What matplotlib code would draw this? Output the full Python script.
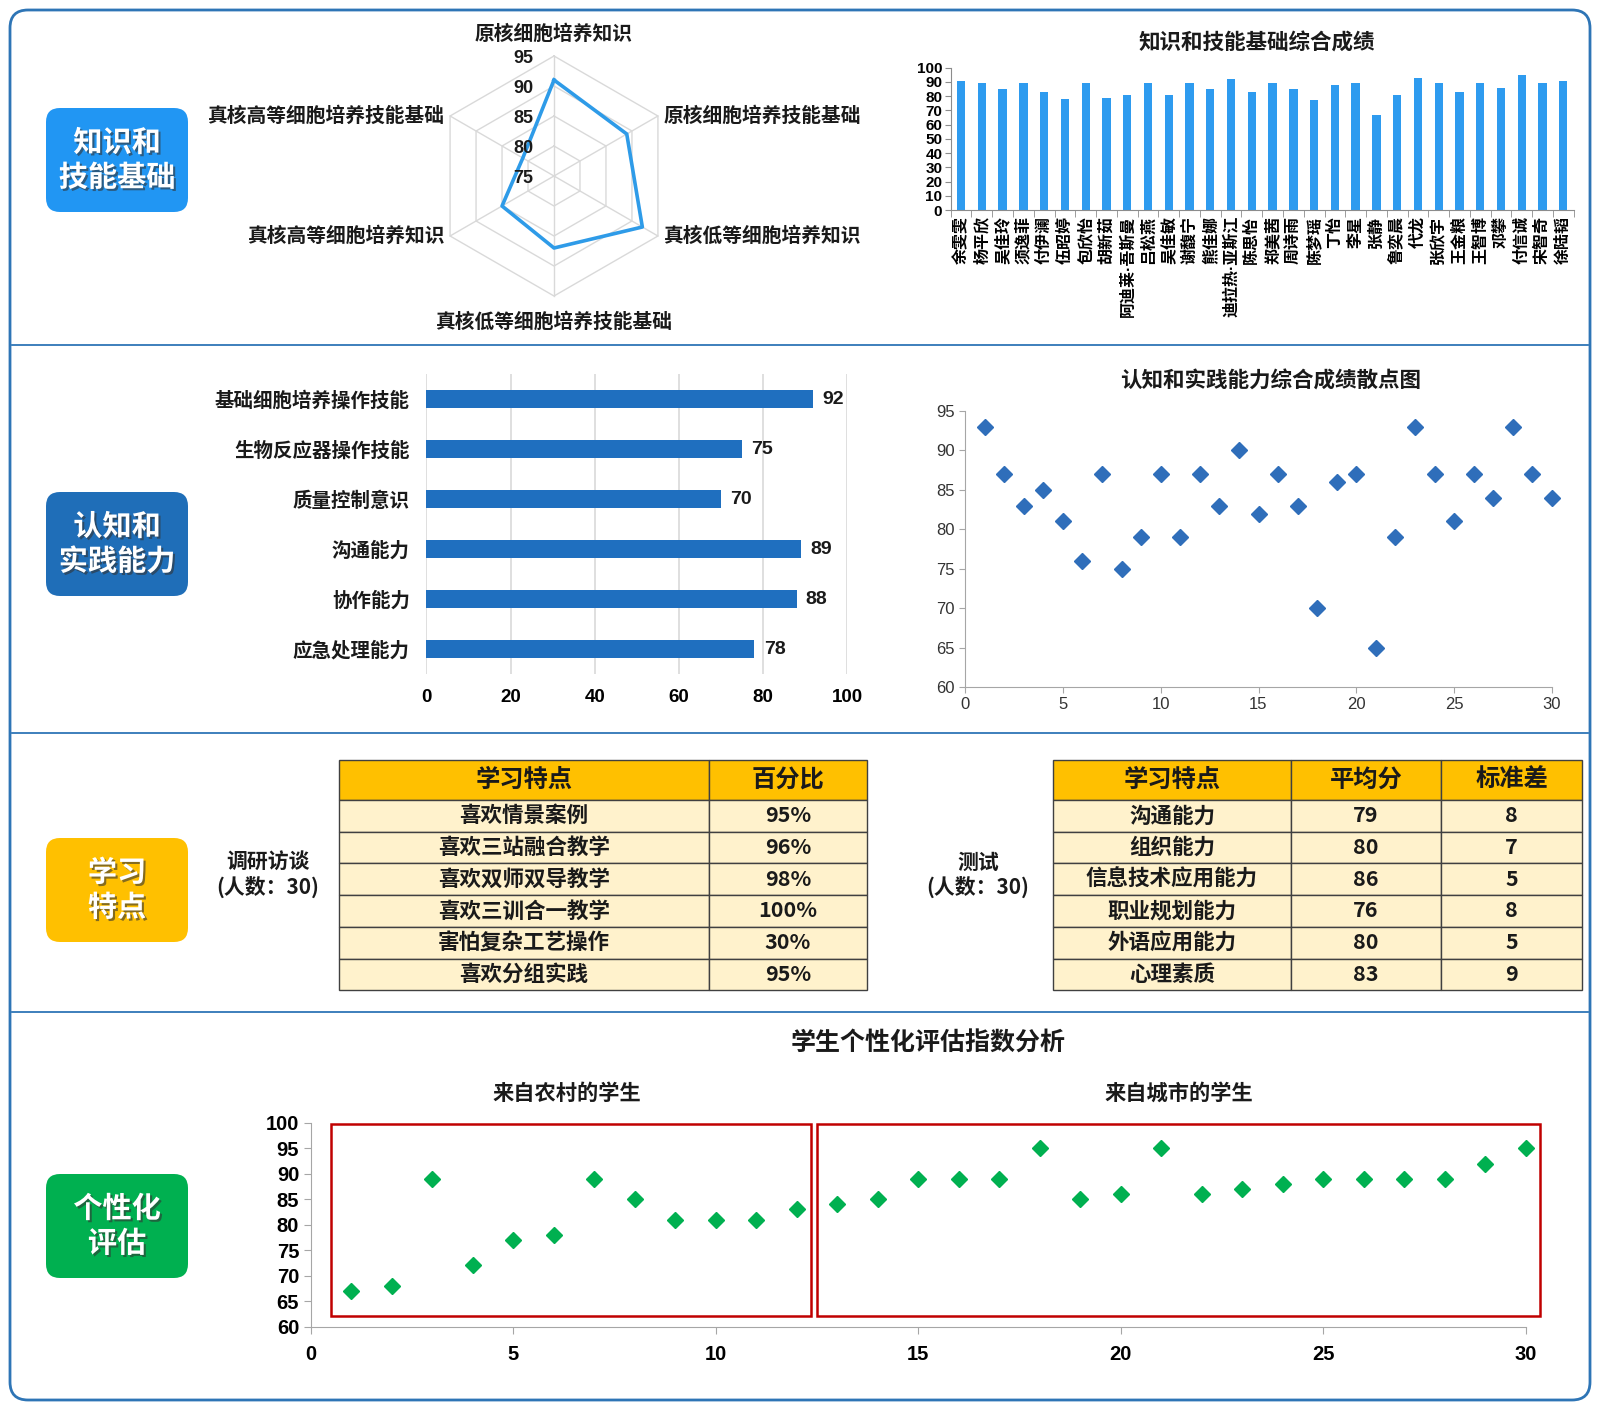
import matplotlib
matplotlib.use('Agg')
import matplotlib.pyplot as plt
import matplotlib.patheffects as pe
from matplotlib.patches import FancyBboxPatch, Rectangle
from matplotlib import font_manager
import numpy as np

plt.rcParams['font.family'] = ['Liberation Sans', 'Noto Sans CJK SC']
plt.rcParams['axes.unicode_minus'] = False

W, H = 1600, 1410
CJK = ['Noto Sans CJK SC', 'DejaVu Sans']
MIXED = ['Liberation Sans', 'Noto Sans CJK SC']
_names = {f.name for f in font_manager.fontManager.ttflist}
NARROW = 'Liberation Sans Narrow' if 'Liberation Sans Narrow' in _names else 'Liberation Sans'

# ---- data ----
radar_labels = ['原核细胞培养知识', '原核细胞培养技能基础', '真核低等细胞培养知识',
                '真核低等细胞培养技能基础', '真核高等细胞培养知识', '真核高等细胞培养技能基础']
radar_values = [91, 89, 92, 87, 85, 81]
radar_ticks = [75, 80, 85, 90, 95]

students = ['余雯雯', '杨平欣', '吴佳玲', '须逸菲', '付伊澜', '伍昭婷', '包欣怡', '胡新茹',
            '阿迪莱·吾斯曼', '吕松燕', '吴佳敏', '谢馥宁', '熊佳娜', '迪拉热·亚斯江', '陈思怡',
            '郑美茜', '周诗雨', '陈梦瑶', '丁怡', '李星', '张静', '鲁奕晨', '代龙', '张欣宇',
            '王金粮', '王智博', '邓攀', '付信诚', '宋智奇', '徐陆韬']
knowledge_scores = [91, 89, 85, 89, 83, 78, 89, 79, 81, 89, 81, 89, 85, 92, 83,
                    89, 85, 77, 88, 89, 67, 81, 93, 89, 83, 89, 86, 95, 89, 91]

ability_labels = ['基础细胞培养操作技能', '生物反应器操作技能', '质量控制意识',
                  '沟通能力', '协作能力', '应急处理能力']
ability_values = [92, 75, 70, 89, 88, 78]

practice_scores = [93, 87, 83, 85, 81, 76, 87, 75, 79, 87, 79, 87, 83, 90, 82,
                   87, 83, 70, 86, 87, 65, 79, 93, 87, 81, 87, 84, 93, 87, 84]

survey_header = ['学习特点', '百分比']
survey_items = ['喜欢情景案例', '喜欢三站融合教学', '喜欢双师双导教学',
                '喜欢三训合一教学', '害怕复杂工艺操作', '喜欢分组实践']
survey_pct = [95, 96, 98, 100, 30, 95]

test_header = ['学习特点', '平均分', '标准差']
test_items = ['沟通能力', '组织能力', '信息技术应用能力', '职业规划能力', '外语应用能力', '心理素质']
test_mean = [79, 80, 86, 76, 80, 83]
test_std = [8, 7, 5, 8, 5, 9]

personal_scores = [67, 68, 89, 72, 77, 78, 89, 85, 81, 81, 81, 83, 84, 85, 89,
                   89, 89, 95, 85, 86, 95, 86, 87, 88, 89, 89, 89, 89, 92, 95]
rural_count = 12
group_titles = ['来自农村的学生', '来自城市的学生']

sections = [('知识和\n技能基础', '#2196F3', 160),
            ('认知和\n实践能力', '#1F6EB8', 544),
            ('学习\n特点', '#FFC000', 890),
            ('个性化\n评估', '#00B050', 1226)]

fig = plt.figure(figsize=(16, 14.1), dpi=100)


def px_axes(x0, y0, x1, y1, **kw):
    return fig.add_axes([x0 / W, 1 - y1 / H, (x1 - x0) / W, (y1 - y0) / H], **kw)


# background / layout layer in pixel coordinates
bg = fig.add_axes([0, 0, 1, 1])
bg.set_xlim(0, W)
bg.set_ylim(H, 0)
bg.axis('off')

bg.add_patch(FancyBboxPatch((10, 10), 1580, 1390, boxstyle='round,pad=0,rounding_size=18',
                            fill=False, ec='#2E75B6', lw=2))
for ysep in [345, 733, 1012]:
    bg.plot([12, 1588], [ysep, ysep], color='#2E75B6', lw=1.3)

shadow = [pe.SimplePatchShadow(offset=(1.5, -1.5), shadow_rgbFace='#333333', alpha=0.6), pe.Normal()]
for text, color, cy in sections:
    bg.add_patch(FancyBboxPatch((46, cy - 52), 142, 104, boxstyle='round,pad=0,rounding_size=14',
                                fc=color, ec='none'))
    bg.text(117, cy, text, ha='center', va='center', color='white', fontsize=21,
            fontweight='bold', family=CJK, linespacing=1.2, path_effects=shadow)

# ---- radar ----
ax = px_axes(434, 56, 674, 296, projection='polar')
ax.patch.set_alpha(0)
angles = np.linspace(0, 2 * np.pi, len(radar_labels), endpoint=False)
closed = np.append(angles, angles[0])
ax.set_theta_zero_location('N')
ax.set_theta_direction(-1)
ax.set_ylim(radar_ticks[0], radar_ticks[-1])
ax.grid(False)
ax.spines['polar'].set_visible(False)
ax.set_xticks([])
ax.set_yticks([])
for r in radar_ticks[1:]:
    ax.plot(closed, [r] * len(closed), color='#D9D9D9', lw=1, clip_on=False)
for a in angles:
    ax.plot([a, a], [radar_ticks[0], radar_ticks[-1]], color='#D9D9D9', lw=1, clip_on=False)
ax.plot(closed, radar_values + radar_values[:1], color='#2E9BE8', lw=2.6, clip_on=False)
for r in radar_ticks:
    ax.annotate(str(r), xy=(0, r), xytext=(-15, -2), textcoords='offset points',
                ha='right', va='center', fontsize=13, fontweight='bold', color='#1a1a1a')
for a, lab in zip(angles, radar_labels):
    sx, cy_ = np.sin(a), np.cos(a)
    if abs(sx) < 0.01:
        off = (0, 16 if cy_ > 0 else -19)
        ha = 'center'
    else:
        off = (4 if sx > 0 else -4, 0)
        ha = 'left' if sx > 0 else 'right'
    ax.annotate(lab, xy=(a, radar_ticks[-1]), xytext=off, textcoords='offset points',
                ha=ha, va='center', fontsize=14.2, fontweight='bold', family=CJK,
                color='#1a1a1a', annotation_clip=False)

# ---- knowledge bar chart ----
ax = px_axes(950.7, 67.7, 1573.7, 210)
ax.patch.set_alpha(0)
xs = np.arange(len(students))
ax.bar(xs, knowledge_scores, width=0.4, color='#2E9BEF')
ax.set_xlim(-0.5, len(students) - 0.5)
ax.set_ylim(0, 100)
ax.set_yticks(range(0, 101, 10))
ax.set_xticks(xs)
ax.set_xticklabels(students, rotation=90, fontsize=11.5, fontweight='bold', family=MIXED)
ax.set_xticks(np.arange(len(students) + 1) - 0.5, minor=True)
ax.tick_params(axis='x', which='major', length=0, pad=4)
ax.tick_params(axis='x', which='minor', length=5, color='#8C8C8C')
ax.tick_params(axis='y', length=4, color='#8C8C8C', pad=2)
for lab in ax.get_yticklabels():
    lab.set_fontsize(11)
    lab.set_fontweight('bold')
for s in ['top', 'right']:
    ax.spines[s].set_visible(False)
for s in ['left', 'bottom']:
    ax.spines[s].set_color('#8C8C8C')
bg.text(1257, 43, '知识和技能基础综合成绩', ha='center', va='center', fontsize=15.5,
        fontweight='bold', family=CJK, color='#1a1a1a')

# ---- ability horizontal bars ----
ax = px_axes(426.5, 374, 847, 674)
ax.patch.set_alpha(0)
ys = np.arange(len(ability_labels))
ax.barh(ys, ability_values, height=0.35, color='#1F6FBF', zorder=2)
ax.set_ylim(len(ability_labels) - 0.5, -0.5)
ax.set_xlim(0, 100)
ax.set_xticks(range(0, 101, 20))
ax.grid(axis='x', color='#D9D9D9', lw=1.2, zorder=0)
for s in ax.spines.values():
    s.set_visible(False)
ax.tick_params(length=0)
ax.tick_params(axis='x', pad=11)
ax.tick_params(axis='y', pad=12)
ax.set_yticks(ys)
ax.set_yticklabels(ability_labels, fontsize=14, fontweight='bold', family=CJK, color='#1a1a1a')
for lab in ax.get_xticklabels():
    lab.set_fontsize(13.5)
    lab.set_fontweight('bold')
for yy, v in zip(ys, ability_values):
    ax.text(v + 2.2, yy, str(v), va='center', ha='left', fontsize=14, fontweight='bold',
            color='#1a1a1a')

# ---- practice scatter ----
ax = px_axes(965, 411, 1552, 687)
ax.patch.set_alpha(0)
idx = np.arange(1, len(practice_scores) + 1)
ax.plot(idx, practice_scores, ls='none', marker='D', ms=8, color='#2F6EBA', clip_on=False)
ax.set_xlim(0, 30)
ax.set_ylim(60, 95)
ax.set_xticks(range(0, 31, 5))
ax.set_yticks(range(60, 96, 5))
for s in ['top', 'right']:
    ax.spines[s].set_visible(False)
for s in ['left', 'bottom']:
    ax.spines[s].set_color('#A6A6A6')
ax.tick_params(length=4, color='#A6A6A6', labelsize=12, labelcolor='#333333')
for lab in ax.get_xticklabels() + ax.get_yticklabels():
    lab.set_family(NARROW)
bg.text(1271, 381, '认知和实践能力综合成绩散点图', ha='center', va='center', fontsize=15.5,
        fontweight='bold', family=CJK, color='#1a1a1a')

# ---- tables ----


def draw_table(x_edges, top, header_h, row_h, header, rows):
    for j, head in enumerate(header):
        x0, x1 = x_edges[j], x_edges[j + 1]
        bg.add_patch(Rectangle((x0, top), x1 - x0, header_h, fc='#FFC000', ec='#404040', lw=1))
        bg.text((x0 + x1) / 2, top + header_h / 2, head, ha='center', va='center',
                fontsize=17.5, fontweight='bold', family=CJK, color='#1a1a1a')
        for i, row in enumerate(rows):
            y0 = top + header_h + i * row_h
            bg.add_patch(Rectangle((x0, y0), x1 - x0, row_h, fc='#FFF2CC', ec='#404040', lw=1))
            bg.text((x0 + x1) / 2, y0 + row_h / 2, row[j], ha='center', va='center',
                    fontsize=15.5, fontweight='bold', family=CJK, color='#1a1a1a')


draw_table([339, 709, 867], 760, 40, 31.7, survey_header,
           [[a, f'{b}%'] for a, b in zip(survey_items, survey_pct)])
draw_table([1053, 1291, 1441, 1582], 760, 40, 31.7, test_header,
           [[a, str(b), str(c)] for a, b, c in zip(test_items, test_mean, test_std)])
bg.text(268, 875, '调研访谈\n(人数：30)', ha='center', va='center', fontsize=15,
        fontweight='bold', family=CJK, linespacing=1.15, color='#1a1a1a')
bg.text(978, 875, '测试\n(人数：30)', ha='center', va='center', fontsize=15,
        fontweight='bold', family=CJK, linespacing=1.15, color='#1a1a1a')

# ---- personalised index scatter ----
ax = px_axes(311, 1123, 1525.5, 1326.5)
ax.patch.set_alpha(0)
idx = np.arange(1, len(personal_scores) + 1)
ax.plot(idx, personal_scores, ls='none', marker='D', ms=8, color='#00B050', clip_on=False)
ax.set_xlim(0, 30)
ax.set_ylim(60, 100)
ax.set_xticks(range(0, 31, 5))
ax.set_yticks(range(60, 101, 5))
for s in ['top', 'right']:
    ax.spines[s].set_visible(False)
for s in ['left', 'bottom']:
    ax.spines[s].set_color('#A6A6A6')
ax.tick_params(length=5, color='#A6A6A6', labelsize=14.5)
for lab in ax.get_xticklabels() + ax.get_yticklabels():
    lab.set_fontweight('bold')
ax.tick_params(axis='x', pad=8)
# red boxes grouping rural / urban students
groups = [(1, rural_count), (rural_count + 1, len(personal_scores))]
for (g0, g1) in groups:
    ax.add_patch(Rectangle((g0 - 0.5, 62), g1 - g0 + 0.85, 37.9, fill=False,
                           ec='#C00000', lw=1.8, clip_on=False))
bg.text(928, 1044, '学生个性化评估指数分析', ha='center', va='center', fontsize=18,
        fontweight='bold', family=CJK, color='#1a1a1a')
for tx, title in zip([567, 1179], group_titles):
    bg.text(tx, 1093, title, ha='center', va='center', fontsize=15.3,
            fontweight='bold', family=CJK, color='#1a1a1a')

fig.savefig('out.png', dpi=100)
